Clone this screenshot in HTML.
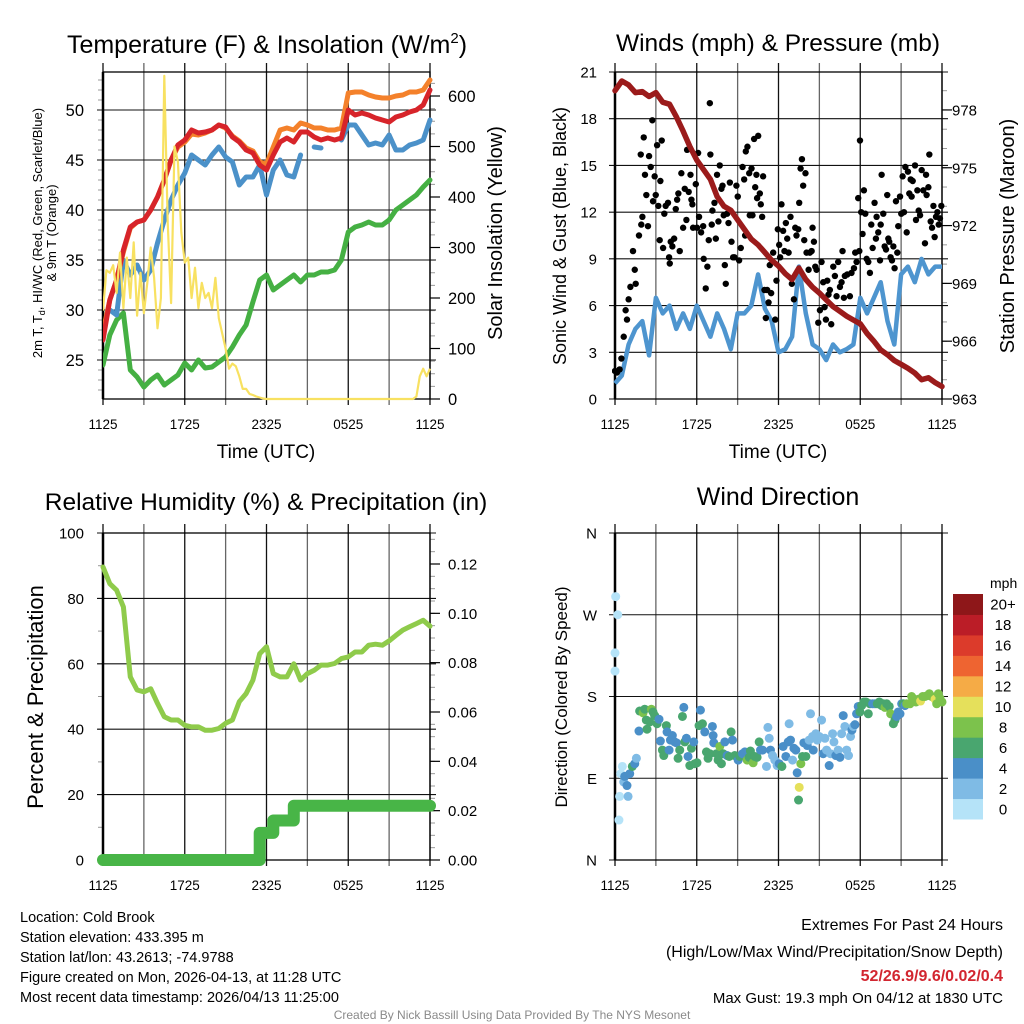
<!DOCTYPE html>
<html><head><meta charset="utf-8"><title>Cold Brook Meteogram</title>
<style>
html,body{margin:0;padding:0;background:#fff;}
svg{display:block;font-family:"Liberation Sans",Arial,sans-serif;}
</style></head>
<body>
<svg id="fig" xmlns="http://www.w3.org/2000/svg" width="1024" height="1024" viewBox="0 0 1024 1024"></svg>
<script>
// ---------- DATA (half-hourly unless noted; hours since 1125 UTC) ----------
const xTickLabels = ["1125","1725","2325","0525","1125"];
const tempTicks = [25,30,35,40,45,50];
const insolTicks = [0,100,200,300,400,500,600];
const windTicks = [0,3,6,9,12,15,18,21];
const presTicks = [963,966,969,972,975,978];
const rhTicks = [0,20,40,60,80,100];
const precipTicks = ["0.00","0.02","0.04","0.06","0.08","0.10","0.12"];
const dirTickLabels = ["N","E","S","W","N"];
const legendLabels = ["0","2","4","6","8","10","12","14","16","18","20+"];

const tempRed = [27,31,33,36,38.3,38.8,39,40,41.3,43,45,46.5,47,48,47.7,47.8,48,48.5,48.3,47.3,46.8,46,45.7,44.5,44,45.5,46.8,47.2,46.8,47.8,47.8,47.3,47,47.2,47,47.2,50,49.5,49.7,49.5,49.2,49,48.8,49.3,49.5,49.8,50,50.5,52];
const temp9m = [27.8,31,33,35.8,38.2,38.8,39,40,41.3,43,45,46.3,46.8,47.6,47.5,47.7,48,48.5,48.2,47.4,46.9,46.2,45.9,44.8,44.6,46.3,48,48.2,48,48.7,48.5,48.2,48.2,48,48,48.2,51.7,51.8,51.8,51.5,51.3,51.2,51.2,51.4,51.5,51.8,51.8,52,53];
const tempBlue = [null,30,29.5,35,33.5,34.5,33,34,36.7,39,41,42.5,43.7,45.5,45,44.5,45.5,46.3,45.3,44.8,42.5,43.3,43.3,44.5,41.5,44,45,43.5,43.3,45.5,null,46.3,46.2,null,null,47,48.5,48.5,47.5,46.5,46.7,46.5,47.5,46,46,46.5,46.7,47,49];
const tempGreen = [24.5,27.5,29,29.7,24,23.3,22.3,23,23.5,22.5,23,23.5,24.7,24,25,24.2,24.3,24.8,25.3,26.3,27.5,28.5,30.8,33,33.5,32,32.5,33,33.5,32.8,33.5,33.5,33.8,33.8,34,35,37.8,38.3,38.5,38.8,38.5,38.5,39,40,40.5,41,41.5,42.3,43];
// insolation, quarter-hourly
const insolation = [175,255,250,265,210,290,180,280,200,310,165,250,170,230,300,240,140,200,640,350,190,500,470,330,270,280,200,260,180,230,200,210,180,240,160,130,100,60,70,65,45,20,20,10,8,5,3,1,0,0,0,0,0,0,0,0,0,0,0,0,0,0,0,0,0,0,0,0,0,0,0,0,0,0,0,0,0,0,0,0,0,0,0,0,0,0,0,0,0,0,0,0,5,45,60,45,60];

const windSpeed = [1.0,1.5,3.5,4.5,5.0,2.8,6.5,5.5,6,4.5,5.5,4.5,6,5,4,5.5,4.5,3.2,5.5,5.5,6,8,5.8,5.0,3,3.2,4,8.5,5.5,3.5,3.2,2.5,3.5,3.0,3.2,3.5,6.5,5.5,6.5,7.5,5,3.5,8,8.5,7.5,9,8,8.5,8.5];
const pressure = [979.0,979.5,979.3,978.9,978.95,978.7,978.9,978.4,978.3,977.65,976.9,976.1,975.4,974.9,974.4,973.5,973.0,972.8,972.3,971.8,971.3,971.0,970.6,970.2,969.9,969.5,969.2,969.8,969.2,968.8,968.5,968.15,967.8,967.55,967.3,967.1,966.9,966.4,966.0,965.55,965.3,965.0,964.8,964.6,964.35,964.0,964.1,963.85,963.65];
const gustHours = [0,0.15,0.34,0.47,0.64,0.78,0.88,1.00,1.13,1.32,1.45,1.52,1.76,1.89,1.93,2.01,2.11,2.20,2.30,2.42,2.50,2.62,2.74,2.79,2.91,2.99,3.09,3.18,3.28,3.33,3.43,3.53,3.62,3.72,3.89,3.97,4.02,4.09,4.21,4.34,4.46,4.56,4.65,4.75,4.87,5.00,5.12,5.24,5.29,5.41,5.54,5.61,5.68,5.73,5.93,6.02,6.10,6.17,6.32,6.47,6.51,6.66,6.78,6.88,6.96,7.00,7.10,7.15,7.30,7.40,7.49,7.59,7.69,7.81,7.89,7.98,8.06,8.13,8.23,8.33,8.43,8.55,8.67,8.77,8.91,9.01,9.11,9.23,9.36,9.48,9.55,9.60,9.72,9.85,9.89,10.02,10.09,10.21,10.29,10.38,10.43,10.51,10.63,10.70,10.80,10.87,10.97,11.07,11.17,11.27,11.36,11.46,11.61,11.76,11.85,11.95,12.05,12.12,12.22,12.34,12.44,12.54,12.64,12.74,12.88,12.98,13.13,13.23,13.32,13.45,13.52,13.62,13.72,13.81,13.89,13.98,14.06,14.21,14.30,14.43,14.50,14.60,14.70,14.79,14.92,15.04,15.16,15.28,15.38,15.48,15.58,15.67,15.77,15.87,16.02,16.14,16.26,16.38,16.51,16.63,16.70,16.80,16.87,17.05,17.24,17.36,17.54,17.63,17.73,17.85,17.93,17.98,18.07,18.17,18.27,18.37,18.47,18.59,18.71,18.81,18.91,19.05,19.15,19.20,19.32,19.45,19.50,19.57,19.69,19.79,19.89,19.98,20.06,20.13,20.23,20.33,20.43,20.52,20.62,20.72,20.79,20.92,21.01,21.11,21.21,21.31,21.41,21.50,21.60,21.70,21.77,21.85,22.02,22.09,22.19,22.29,22.39,22.51,22.63,22.75,22.83,22.87,23.00,23.07,23.17,23.27,23.37,23.46,23.56,23.66,23.76,23.85,23.95];
const gustMph = [1.8,1.7,1.9,2.6,4.0,5.7,5.1,6.4,7.2,9.5,8.3,7.4,10.5,15.7,11.2,11.7,16.8,14.4,13.1,11.1,15.6,14.9,17.9,12.7,14.3,13.1,16.3,12.4,10.2,14.0,16.6,9.7,11.9,12.4,12.6,9.1,8.7,10.1,9.8,10.3,12.2,12.8,13.2,9.5,14.5,11.0,13.5,11.5,16.0,13.3,14.4,12.8,12.5,11.0,13.8,11.0,15.8,11.7,10.7,11.1,9.0,7.1,8.5,10.2,19.0,15.7,11.2,12.1,12.6,10.3,14.4,11.4,15.0,13.5,13.7,11.8,8.6,7.4,11.9,11.3,13.9,10.1,9.1,9.1,13.7,13.0,8.9,9.7,14.9,14.1,10.5,15.9,16.2,14.5,11.8,14.8,11.8,16.7,13.6,14.4,12.9,16.9,13.2,12.5,11.7,14.3,7.0,5.2,7.0,6.2,8.6,6.8,9.4,5.1,7.6,10.9,9.9,9.1,12.5,10.8,9.5,11.3,10.3,9.4,11.7,7.4,6.4,11.0,10.5,10.9,12.6,14.8,15.4,13.7,10.2,14.5,9.4,8.3,9.4,9.5,11.0,10.1,8.5,8.3,4.9,5.7,8.8,7.5,5.9,5.1,7.6,6.7,7.0,4.8,8.5,7.9,6.6,8.8,7.2,7.5,9.5,6.5,7.9,8.0,6.6,8.1,8.4,9.4,8.8,12.9,9.5,16.6,12.0,10.6,13.4,11.9,9.0,8.8,8.1,11.2,9.7,12.6,10.3,11.7,10.7,8.9,11.2,14.4,11.9,9.8,9.6,13.1,10.3,10.1,9.1,8.9,9.8,8.4,12.7,9.4,11.1,13.0,11.9,14.3,12.0,14.9,10.7,14.6,13.2,14.1,13.0,14.0,15.0,11.5,13.4,12.1,11.8,14.7,13.4,10.0,14.4,13.1,13.6,15.7,11.4,11.0,12.4,10.4,11.7,12.0,11.2,11.6,12.4];

const rh = [89.6,84.5,82.5,77.4,56,52,51.4,52.4,47.9,43.8,42.8,42.8,41.2,40.7,40.7,39.7,39.7,40.2,41.8,42.8,48.4,50.9,55,63.1,65.2,57,56,56,60,55,57,58,59.6,59.6,60.1,61.6,62.1,63.6,63.6,65.7,66,65.7,67,68.7,70.3,71.3,72.3,73.3,71.5];
const precip = [0,0,0,0,0,0,0,0,0,0,0,0,0,0,0,0,0,0,0,0,0,0,0,0.011,0.011,0.016,0.016,0.016,0.022,0.022,0.022,0.022,0.022,0.022,0.022,0.022,0.022,0.022,0.022,0.022,0.022,0.022,0.022,0.022,0.022,0.022,0.022,0.022,0.022];

const dirHours = [0.05,0.2,0,0,0.29,0.34,0.54,0.42,0.64,0.71,0.88,0.96,1.08,1.27,1.45,1.57,1.76,1.81,2.06,2.18,2.30,2.35,2.55,2.67,2.79,2.91,3.09,3.23,3.33,3.48,3.58,3.77,3.82,3.97,4.07,4.21,4.38,4.51,4.63,4.75,4.95,5.05,5.12,5.24,5.36,5.49,5.61,5.78,5.85,6.02,6.17,6.27,6.42,6.59,6.71,6.83,6.96,7.15,7.20,7.25,7.45,7.57,7.69,7.81,7.94,8.06,8.23,8.38,8.52,8.62,8.79,9.04,9.16,9.36,9.53,9.70,9.85,9.94,10.14,10.26,10.43,10.58,10.68,10.83,11.12,11.22,11.32,11.41,11.56,11.73,11.90,12.05,12.25,12.34,12.54,12.71,12.78,12.88,13.03,13.13,13.27,13.37,13.52,13.47,13.64,13.76,13.86,14.01,14.11,14.25,14.35,14.50,14.55,14.74,14.84,14.99,15.16,15.28,15.41,15.53,15.72,15.82,15.97,16.07,16.21,16.38,16.51,16.63,16.75,16.87,17.00,17.14,17.29,17.39,17.49,17.61,17.73,17.85,17.98,18.10,18.27,18.42,18.59,18.71,18.91,19.08,19.25,19.40,19.57,19.69,19.81,19.94,20.13,20.23,20.43,20.55,20.67,20.79,20.92,21.04,21.16,21.28,21.41,21.65,21.77,21.94,22.09,22.26,22.43,22.58,22.75,22.92,23.07,23.24,23.49,23.61,23.73,23.85,24];
const dirDeg = [290,270,228,208,44,70,103,95,86,92,82,70,95,103,106,112,142,164,162,166,154,144,152,166,163,159,150,155,131,121,115,148,141,121,132,137,130,129,112,121,158,168,130,134,114,104,123,130,106,107,148,165,150,141,119,112,117,147,137,129,117,110,125,106,117,130,115,114,141,132,115,110,114,117,119,110,113,120,107,114,113,130,121,121,103,146,134,121,115,110,104,106,103,125,114,130,150,132,110,123,121,96,80,66,106,114,129,114,126,132,161,136,121,139,132,136,154,117,134,121,104,117,139,130,115,121,113,139,159,147,121,115,136,143,147,149,161,169,163,170,174,174,161,172,172,172,172,174,170,172,168,172,169,161,150,154,158,163,161,172,172,170,172,172,180,177,174,177,175,180,180,181,183,180,177,172,183,178,174];
const dirSpeed = [1,1,1,1,1,1,1,1,3,5,5,3,5,7,5,3,5,7,9,7,7,7,7,9,7,7,7,5,5,7,7,7,5,5,5,5,5,5,7,7,7,5,7,5,5,7,7,5,7,7,7,5,7,5,7,7,7,5,5,5,7,7,9,7,7,5,5,7,7,5,7,5,7,5,5,9,7,7,9,7,7,7,5,5,3,3,3,5,3,3,3,5,7,5,5,5,3,5,3,5,5,5,11,7,9,7,5,7,5,3,3,3,5,3,3,3,3,5,3,3,5,3,3,3,5,3,5,3,5,3,3,3,3,5,3,5,5,5,7,7,7,7,7,7,5,5,7,7,7,7,9,7,7,9,7,7,5,5,5,5,7,5,9,9,9,9,9,9,11,9,9,9,9,9,11,9,9,9,9,9,9,9];
const legendColors = ["#b5e3f8","#7fbbe5","#4a8fc8","#49a66f","#7cc24c","#e5e05b","#f5ab46","#ee6431","#dc3b2b","#bb1d27","#8e1719"];

// ---------- helpers ----------
const NS = "http://www.w3.org/2000/svg";
const svg = document.getElementById("fig");
function el(tag, attrs, parent){ const e=document.createElementNS(NS,tag); for(const k in attrs) e.setAttribute(k,attrs[k]); (parent||svg).appendChild(e); return e; }
function txt(s, attrs, parent){ const e=el("text",attrs,parent); e.textContent=s; return e; }
const X0=103, X1=430, X0R=615, X1R=942;
function xs(left,right){ return h => left + h*(right-left)/24; }
function linePath(vals, xf, yf, step){
  let d="", pen=false;
  vals.forEach((v,i)=>{ if(v===null){pen=false;return;} const x=xf(i*step), y=yf(v); d+=(pen?"L":"M")+x.toFixed(1)+","+y.toFixed(1); pen=true; });
  return d;
}
function grid(g, left, right, top, bottom, yVals, yf){
  const xf = xs(left,right);
  for(let k=0;k<=8;k++){
    const x=xf(k*3);
    const gl = el("line",{x1:x,x2:x,y1:top-9,y2:bottom+6,stroke:(k%2===0?"#111":"#666"),"stroke-width":1.3},g);
    
    
  }
  yVals.forEach(v=>{
    const y=yf(v);
    const hl = el("line",{x1:left-6,x2:right+6,y1:y,y2:y,stroke:"#111","stroke-width":1.1},g);
    
    
  });
  const fr = el("rect",{x:left,y:top,width:right-left,height:bottom-top,fill:"none",stroke:"#000","stroke-width":1.3},g);
  
  
  const lb = el("line",{x1:left,x2:left,y1:top,y2:bottom,stroke:"#000","stroke-width":2.5},g);
  
  
  xTickLabels.forEach((s,i)=>{
    const t = txt(s,{x:xf(i*6),y:bottom+30,"text-anchor":"middle","font-size":13.5,fill:"#000"},g);
    
    
  });
}
function minorTicks(g, x, dir, from, to, step, yf){
  for(let v=from; v<=to+1e-9; v+=step){
    const y=yf(v);
    const m = el("line",{x1:x,x2:x+dir*5,y1:y,y2:y,stroke:"#999","stroke-width":1},g);
    
    
  }
}

// ---------- Panel 1: temperature ----------
(function(){
  const g = el("g",{});  
  const top=72,bottom=399;
  const xf = xs(X0,X1);
  const yT = v => 110 + (50-v)*10;
  const yI = v => 399 - v*0.505;
  minorTicks(g, X0, -1, 22, 53, 1, yT);
  minorTicks(g, X1, 1, 0, 640, 25, yI);
  grid(g, X0, X1, top, bottom, tempTicks, yT);
  insolTicks.forEach(v=>{ const tk=el("line",{x1:X1,x2:X1+10,y1:yI(v),y2:yI(v),stroke:"#000","stroke-width":1.2},g);   });
  tempTicks.forEach(v=>{ const t=txt(String(v),{x:84,y:yT(v)+6,"text-anchor":"end","font-size":16.5},g);   });
  insolTicks.forEach(v=>{ const t=txt(String(v),{x:448,y:yI(v)+6,"font-size":16.5},g);   });
  const cp = el("clipPath",{id:"c1"},g); el("rect",{x:X0,y:top-2,width:X1-X0+4,height:bottom-top+4},cp);
  const s = el("g",{"clip-path":"url(#c1)"},g);
  const series = [[tempGreen,"#45b043",5,"dewpoint-line"],[tempBlue,"#4b91c9",5,"wind-chill-line"],[temp9m,"#f4812b",5,"9m-temperature-line"],[tempRed,"#d7242a",5,"2m-temperature-line"]];
  series.forEach(([arr,c,w,name])=>{
    const p = el("path",{d:linePath(arr,xf,yT,0.5),fill:"none",stroke:c,"stroke-width":w,"stroke-linejoin":"round","stroke-linecap":"round"},s);
    
    
  });
  const yl = el("path",{d:linePath(insolation,xf,yI,0.25),fill:"none",stroke:"#f8e161","stroke-width":2.2,"stroke-linejoin":"round"},s);
  
  
  const ti = el("text",{x:267,y:53,"text-anchor":"middle","font-size":25},g);
  ti.innerHTML = 'Temperature (F) &amp; Insolation (W/m<tspan dy="-10" font-size="15">2</tspan><tspan dy="10">)</tspan>';
   
  const t1 = txt("2m T, T",{transform:"translate(42,233) rotate(-90)","text-anchor":"middle","font-size":13},g);
  t1.innerHTML='2m T, T<tspan font-size="9" dy="3">d</tspan><tspan dy="-3">, HI/WC (Red, Green, Scarlet/Blue)</tspan>';
   
  const t2 = txt("& 9m T (Orange)",{transform:"translate(56,233) rotate(-90)","text-anchor":"middle","font-size":13},g);
   
  const t3 = txt("Solar Insolation (Yellow)",{transform:"translate(502,233) rotate(-90)","text-anchor":"middle","font-size":20},g);
   
  const t4 = txt("Time (UTC)",{x:266,y:458,"text-anchor":"middle","font-size":19},g);
   
})();

// ---------- Panel 2: winds ----------
(function(){
  const g = el("g",{});  
  const top=72,bottom=399;
  const xf = xs(X0R,X1R);
  const yW = v => 399 - v*(327/21);
  const yP = v => 399 - (v-963)*19.27;
  minorTicks(g, X1R, 1, 963, 979.5, 1, yP);
  grid(g, X0R, X1R, top, bottom, windTicks, yW);
  presTicks.forEach(v=>{ const tk=el("line",{x1:X1R,x2:X1R+10,y1:yP(v),y2:yP(v),stroke:"#000","stroke-width":1.2},g);   });
  windTicks.forEach(v=>{ const t=txt(String(v),{x:597,y:yW(v)+5.5,"text-anchor":"end","font-size":15},g);   });
  presTicks.forEach(v=>{ const t=txt(String(v),{x:952,y:yP(v)+5.5,"font-size":15},g);   });
  const cp = el("clipPath",{id:"c2"},g); el("rect",{x:X0R-3,y:top-4,width:X1R-X0R+6,height:bottom-top+8},cp);
  const s = el("g",{"clip-path":"url(#c2)"},g);
  const wl = el("path",{d:linePath(windSpeed,xf,yW,0.5),fill:"none",stroke:"#4e95cf","stroke-width":4.5,"stroke-linejoin":"round"},s);
   
  gustHours.forEach((h,i)=>{
    const c = el("circle",{cx:xf(h),cy:yW(gustMph[i]),r:3.2,fill:"#000"},s);
    
    
  });
  const pl = el("path",{d:linePath(pressure,xf,yP,0.5),fill:"none",stroke:"#9b1b1b","stroke-width":5.5,"stroke-linejoin":"round","stroke-linecap":"round"},s);
   
  const ti = txt("Winds (mph) & Pressure (mb)",{x:778,y:51,"text-anchor":"middle","font-size":24.5},g);
   
  const t1 = txt("Sonic Wind & Gust (Blue, Black)",{transform:"translate(566,236) rotate(-90)","text-anchor":"middle","font-size":18},g);
   
  const t2 = txt("Station Pressure (Maroon)",{transform:"translate(1014,236) rotate(-90)","text-anchor":"middle","font-size":20},g);
   
  const t4 = txt("Time (UTC)",{x:778,y:458,"text-anchor":"middle","font-size":19},g);
   
})();

// ---------- Panel 3: RH & precip ----------
(function(){
  const g = el("g",{});  
  const top=533,bottom=860;
  const xf = xs(X0,X1);
  const yR = v => 860 - v*3.27;
  const yQ = v => 860 - v*(296/0.12);
  minorTicks(g, X0, -1, 0, 100, 10, yR);
  minorTicks(g, X1, 1, 0, 0.13, 0.005, yQ);
  grid(g, X0, X1, top, bottom, rhTicks, yR);
  precipTicks.forEach(v=>{ const tk=el("line",{x1:X1,x2:X1+10,y1:yQ(+v),y2:yQ(+v),stroke:"#000","stroke-width":1.2},g);   });
  rhTicks.forEach(v=>{ const t=txt(String(v),{x:84,y:yR(v)+5.5,"text-anchor":"end","font-size":15},g);   });
  precipTicks.forEach(v=>{ const t=txt(v,{x:448,y:yQ(+v)+5.5,"font-size":15},g);   });
  const pp = el("path",{d:(function(){let d="";precip.forEach((v,i)=>{const x=xf(i*0.5),y=yQ(v); if(i===0) d="M"+x+","+y; else { d+="L"+x.toFixed(1)+","+yQ(precip[i-1]).toFixed(1)+"L"+x.toFixed(1)+","+y.toFixed(1);} }); return d;})(),fill:"none",stroke:"#48b547","stroke-width":12,"stroke-linecap":"round","stroke-linejoin":"round"},g);
   
  const rl = el("path",{d:linePath(rh,xf,yR,0.5),fill:"none",stroke:"#8fcb4b","stroke-width":5,"stroke-linejoin":"round","stroke-linecap":"round"},g);
   
  const ti = txt("Relative Humidity (%) & Precipitation (in)",{x:266,y:510,"text-anchor":"middle","font-size":24.5},g);
   
  const t1 = txt("Percent & Precipitation",{transform:"translate(43,697) rotate(-90)","text-anchor":"middle","font-size":22},g);
   
})();

// ---------- Panel 4: wind direction ----------
(function(){
  const g = el("g",{});  
  const top=533,bottom=860;
  const xf = xs(X0R,X1R);
  const yD = v => 860 - v*(327/360);
  grid(g, X0R, X1R, top, bottom, [0,90,180,270,360], yD);
  dirTickLabels.forEach((s,i)=>{ const t=txt(s,{x:597,y:yD(i*90)+5.5,"text-anchor":"end","font-size":15},g);   });
  dirHours.forEach((h,i)=>{
    const bin = Math.min(10, Math.floor(dirSpeed[i]/2));
    const c = el("circle",{cx:xf(h),cy:yD(dirDeg[i]),r:4.5,fill:legendColors[bin]},g);
    
    
  });
  const ti = txt("Wind Direction",{x:778,y:505,"text-anchor":"middle","font-size":25},g);
   
  const t1 = txt("Direction (Colored By Speed)",{transform:"translate(567,697) rotate(-90)","text-anchor":"middle","font-size":17},g);
   
  const lg = el("g",{},g);  
  const mph = txt("mph",{x:990,y:588,"font-size":14},lg);
   
  const bh = 225/11;
  legendLabels.forEach((s,i)=>{
    const y = 819 - (i+1)*bh;
    const r = el("rect",{x:953,y:y,width:30,height:bh+0.5,fill:legendColors[i]},lg);
    
    
    const t = txt(s,{x:1003,y:y+bh/2+5.5,"text-anchor":"middle","font-size":15},lg);
    
    
  });
})();

// ---------- Footer text ----------
(function(){
  const g = el("g",{});  
  const left = ["Location: Cold Brook","Station elevation: 433.395 m","Station lat/lon: 43.2613; -74.9788","Figure created on Mon, 2026-04-13, at 11:28 UTC","Most recent data timestamp: 2026/04/13 11:25:00"];
  left.forEach((s,i)=>{ const t=txt(s,{x:20,y:922+i*20,"font-size":14.5},g);   });
  const r1 = txt("Extremes For Past 24 Hours",{x:1003,y:930,"text-anchor":"end","font-size":16},g);
   
  const r2 = txt("(High/Low/Max Wind/Precipitation/Snow Depth)",{x:1003,y:957,"text-anchor":"end","font-size":16},g);
   
  const r3 = txt("52/26.9/9.6/0.02/0.4",{x:1003,y:981,"text-anchor":"end","font-size":16,"font-weight":"bold",fill:"#d22630"},g);
   
  const r4 = txt("Max Gust: 19.3 mph On 04/12 at 1830 UTC",{x:1003,y:1003,"text-anchor":"end","font-size":15},g);
   
  const c = txt("Created By Nick Bassill Using Data Provided By The NYS Mesonet",{x:512,y:1019,"text-anchor":"middle","font-size":12,fill:"#8a8a8a"},g);
   
})();
</script>
</body></html>
